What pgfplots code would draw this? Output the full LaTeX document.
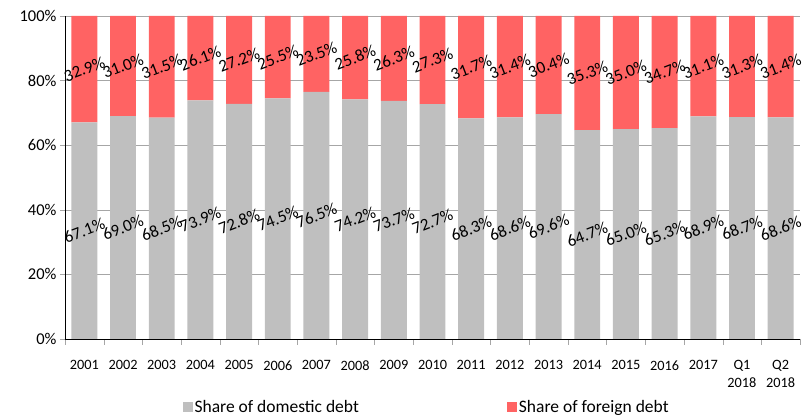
\documentclass[border=0pt]{standalone}
\usepackage{pgfplots}
\pgfplotsset{compat=1.18}
\usepackage{pgfplotstable}
\usepackage{fontspec}
\setmainfont{Carlito}
\definecolor{dom}{RGB}{191,191,191}
\definecolor{frn}{RGB}{255,99,99}
\definecolor{gridc}{RGB}{166,166,166}
\pgfplotstableread{
x d f
0 67.1 32.9
1 69.0 31.0
2 68.5 31.5
3 73.9 26.1
4 72.8 27.2
5 74.5 25.5
6 76.5 23.5
7 74.2 25.8
8 73.7 26.3
9 72.7 27.3
10 68.3 31.7
11 68.6 31.4
12 69.6 30.4
13 64.7 35.3
14 65.0 35.0
15 65.3 34.7
16 68.9 31.1
17 68.7 31.3
18 68.6 31.4
}\data
\pgfplotsset{common/.style={
  scale only axis, width=735pt, height=323pt,
  xmin=-0.5, xmax=18.5, ymin=0, ymax=100}}
\begin{document}
\begin{tikzpicture}
\useasboundingbox (-65pt,-80pt) rectangle (746pt,339pt);
\begin{axis}[
  common,
  ybar stacked, bar width=0.67,
  xtick={0,...,18},
  xticklabels={2001,2002,2003,2004,2005,2006,2007,2008,2009,2010,2011,2012,2013,2014,2015,2016,2017,{Q1\\2018},{Q2\\2018}},
  minor xtick={-0.5,0.5,...,18.5},
  ytick={0,20,...,100},
  yticklabel={\pgfmathprintnumber{\tick}\%},
  axis x line*=bottom, axis y line*=left,
  axis line style={black},
  tick align=outside,
  major tick length=5pt, minor tick length=6pt,
  every major x tick/.append style={draw=none},
  every minor x tick/.append style={draw=gridc},
  every major y tick/.append style={draw=gridc},
  ymajorgrids, grid style={draw=gridc},
  /pgf/number format/assume math mode=true,
  yticklabel style={font=\fontsize{16.5}{18}\selectfont},
  xticklabel style={font=\fontsize{14.3}{18}\selectfont, align=center, yshift=-13pt},
  legend style={at={(0.492,-0.21)}, anchor=center, draw=none, legend columns=2,
    font=\fontsize{17.5}{20}\selectfont,
    /tikz/every even column/.append style={column sep=146pt}},
  legend image code/.code={\fill[#1,draw=none] (0pt,-5pt) rectangle (10pt,5pt);},
]
\addplot[fill=dom, draw=none] table[x=x, y=d] {\data};
\addlegendentry{Share of domestic debt}
\addplot[fill=frn, draw=none] table[x=x, y=f] {\data};
\addlegendentry{Share of foreign debt}
\end{axis}
\begin{axis}[
  common, hide axis,
  nodes near coords={\pgfmathprintnumber[fixed,fixed zerofill,precision=1,assume math mode=true]{\pgfplotspointmeta}\%},
  every node near coord/.append style={font=\fontsize{17}{19}\selectfont, black, anchor=center, rotate=21},
  point meta=explicit,
]
\addplot[draw=none, mark=none] table[x=x, y expr=\thisrow{d}/2, meta=d] {\data};
\addplot[draw=none, mark=none] table[x=x, y expr=\thisrow{d}+\thisrow{f}/2, meta=f] {\data};
\end{axis}
\end{tikzpicture}
\end{document}
